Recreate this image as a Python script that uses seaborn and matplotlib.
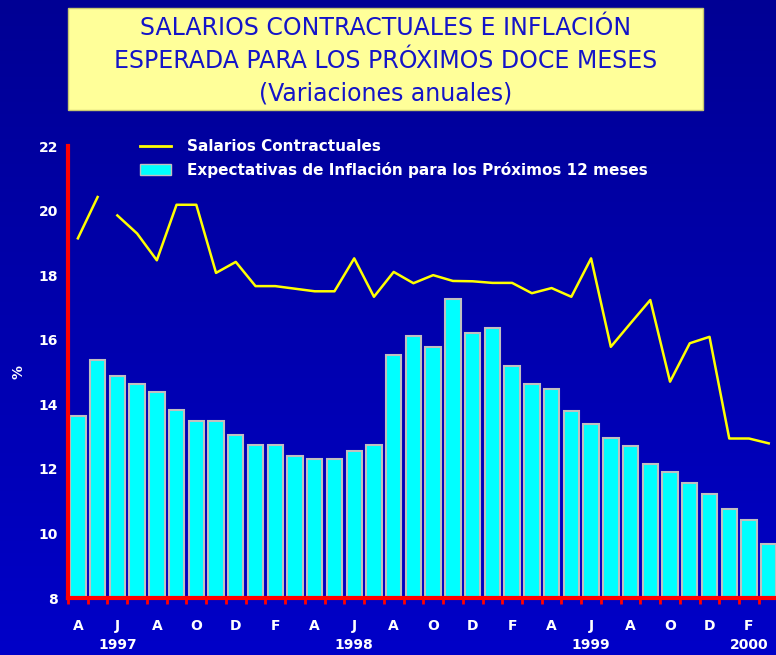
import numpy as np
import pandas as pd
import matplotlib
matplotlib.use('Agg')
import matplotlib.pyplot as plt
import seaborn as sb
from matplotlib.colors import LinearSegmentedColormap
from matplotlib.lines import Line2D
from matplotlib.patches import Patch, Rectangle

# meses abr-1997 .. mar-2000
periodos = [str(p) for p in pd.period_range('1997-04', periods=36, freq='M')]
meses = ['A', 'M', 'J', 'J', 'A', 'S', 'O', 'N', 'D', 'E', 'F', 'M'] * 3

# expectativa de inflacion para los proximos 12 meses (%)
inflacion = [13.63, 15.37, 14.87, 14.63, 14.39, 13.81, 13.48, 13.48, 13.06, 12.73,
             12.73, 12.40, 12.31, 12.31, 12.56, 12.73, 15.54, 16.12, 15.78, 17.26,
             16.20, 16.36, 15.20, 14.63, 14.46, 13.80, 13.39, 12.96, 12.72, 12.15,
             11.90, 11.57, 11.23, 10.75, 10.41, 9.66]

# salarios contractuales (%)
salarios = [19.14, 20.42, 19.85, 19.29, 18.46, 20.18, 20.18, 18.07, 18.41, 17.66,
            17.66, 17.58, 17.50, 17.50, 18.52, 17.33, 18.10, 17.75, 18.00, 17.82,
            17.81, 17.76, 17.76, 17.44, 17.60, 17.33, 18.52, 15.78, 16.51, 17.23,
            14.70, 15.89, 16.09, 12.94, 12.94, 12.79]

# la linea del original tiene un corte despues del segundo mes
tramo = [1, 1] + [2] * 34

anios = {'1997-06': '1997', '1998-06': '1998', '1999-06': '1999', '2000-02': '2000'}

df = pd.DataFrame({'periodo': periodos, 'mes': meses, 'inflacion': inflacion,
                   'salarios': salarios, 'tramo': tramo})
df['pos'] = np.arange(len(df))

fig = plt.figure(figsize=(7.76, 6.55), dpi=100)

# fondo degradado azul
bg = fig.add_axes([0, 0, 1, 1], zorder=-10)
grad = np.linspace(0, 1, 256).reshape(-1, 1)
cmap = LinearSegmentedColormap.from_list('fondo', ['#0000C8', '#000094'])
bg.imshow(grad, aspect='auto', cmap=cmap, extent=[0, 1, 0, 1], origin='lower')
bg.axis('off')

ax = fig.add_axes([68 / 776, 1 - 598 / 655, 710.6 / 776, 452 / 655])
ax.set_facecolor('none')

sb.barplot(data=df, x='pos', y='inflacion', ax=ax, color='#00FFFF', saturation=1,
           edgecolor='#C0C0C0', linewidth=1.5, width=0.78)
sb.lineplot(data=df, x='pos', y='salarios', units='tramo', estimator=None, ax=ax,
            color='#FFFF00', linewidth=1.8, legend=False)

ax.set_ylim(8, 22)
ax.set_xlim(-0.5, 35.5)
ax.set_yticks(range(8, 23, 2))
ax.set_xticks(df['pos'][::2])
ax.set_xticklabels(df['mes'][::2])
ax.set_xticks(np.arange(-0.5, 36, 1), minor=True)
ax.set(xlabel='', ylabel='')

ax.tick_params(axis='x', which='major', length=0, pad=15, labelcolor='white', labelsize=10)
ax.tick_params(axis='x', which='minor', length=4, width=2, color='red', direction='out')
ax.tick_params(axis='y', length=0, pad=7, labelcolor='white', labelsize=10)
for lbl in ax.get_xticklabels() + ax.get_yticklabels():
    lbl.set_fontweight('bold')

for per, anio in anios.items():
    x = df.loc[df['periodo'] == per, 'pos'].iloc[0]
    ax.text(x, -0.104, anio, transform=ax.get_xaxis_transform(), ha='center', va='center',
            color='white', fontweight='bold', fontsize=10)

ax.set_ylabel('%', color='white', fontweight='bold', fontsize=10)
ax.yaxis.set_label_coords(-0.06, 0.5)

for s in ['top', 'right']:
    ax.spines[s].set_visible(False)
for s in ['left', 'bottom']:
    ax.spines[s].set_color('red')
    ax.spines[s].set_linewidth(3)

handles = [Line2D([], [], color='#FFFF00', lw=2),
           Patch(facecolor='#00FFFF', edgecolor='#C0C0C0')]
labels = ['Salarios Contractuales', 'Expectativas de Inflación para los Próximos 12 meses']
ax.legend(handles, labels, loc='upper left', bbox_to_anchor=(140 / 776, 1 - 139 / 655),
          bbox_transform=fig.transFigure, frameon=False, labelcolor='white',
          prop={'weight': 'bold', 'size': 11}, handlelength=2.0, handletextpad=1.1,
          labelspacing=0.5, borderpad=0, borderaxespad=0)

# recuadro del titulo
fig.add_artist(Rectangle((68 / 776, 1 - 110 / 655), 635 / 776, 102 / 655,
                         transform=fig.transFigure, facecolor='#FFFF99',
                         edgecolor='#C8C870', lw=1))
titulo = ['SALARIOS CONTRACTUALES E INFLACIÓN',
          'ESPERADA PARA LOS PRÓXIMOS DOCE MESES',
          '(Variaciones anuales)']
for texto, y in zip(titulo, [28, 61, 93]):
    fig.text(386 / 776, 1 - y / 655, texto, ha='center', va='center', color='#1414C8',
             fontsize=17)

fig.savefig('out.png', dpi=100)
